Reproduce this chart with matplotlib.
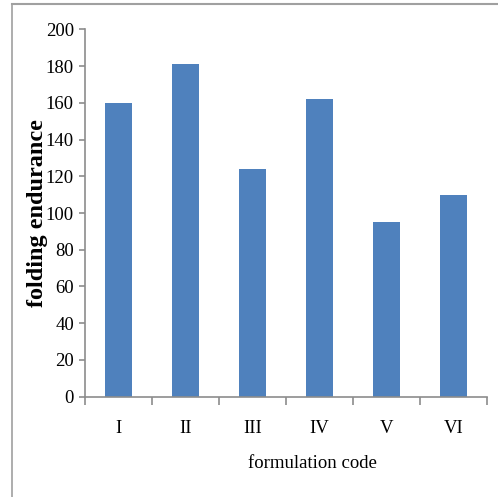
import matplotlib
matplotlib.use("Agg")
import matplotlib.pyplot as plt
from matplotlib.lines import Line2D
import numpy as np

categories = ["I", "II", "III", "IV", "V", "VI"]
values = [160, 181, 124, 162, 95, 110]
yticks = [0, 20, 40, 60, 80, 100, 120, 140, 160, 180, 200]

plt.rcParams['font.family'] = ['Liberation Serif', 'DejaVu Serif']

fig = plt.figure(figsize=(4.98, 4.97), dpi=100)
ax = fig.add_axes([85/498, 100.3/497, 402/498, 367.4/497])

x = np.arange(len(categories))
ax.bar(x, values, width=0.4, color="#4F81BD", zorder=2)

ax.set_xlim(-0.5, len(categories) - 0.5)
ax.set_ylim(0, 200)
ax.set_yticks(yticks)
ax.set_yticklabels([str(v) for v in yticks], fontsize=13.5)
ax.set_xticks(x)
ax.set_xticklabels(categories, fontsize=13.5)
ax.set_xticks(np.arange(len(categories) + 1) - 0.5, minor=True)

axis_col = "#8c8c8c"
for s in ["top", "right"]:
    ax.spines[s].set_visible(False)
for s in ["left", "bottom"]:
    ax.spines[s].set_color(axis_col)
    ax.spines[s].set_linewidth(1.2)

ax.tick_params(axis="y", which="major", length=4, width=1.2, color=axis_col, pad=4)
ax.tick_params(axis="x", which="major", length=0, pad=17)
ax.tick_params(axis="x", which="minor", length=6, width=1.2, color=axis_col)

ax.set_ylabel("folding endurance", fontsize=17.5, fontweight="bold")
ax.yaxis.set_label_coords(-0.093, 0.5)
ax.set_xlabel("formulation code", fontsize=13.5)
ax.xaxis.set_label_coords(0.565, -0.158)

# outer frame (top and left edges visible)
fig.add_artist(Line2D([12/498, 1.0], [1 - 4/497, 1 - 4/497], transform=fig.transFigure,
                      color="#a0a0a0", linewidth=1.5))
fig.add_artist(Line2D([12/498, 12/498], [0, 1 - 4/497], transform=fig.transFigure,
                      color="#a0a0a0", linewidth=1.2))

fig.savefig("out.png", dpi=100)
